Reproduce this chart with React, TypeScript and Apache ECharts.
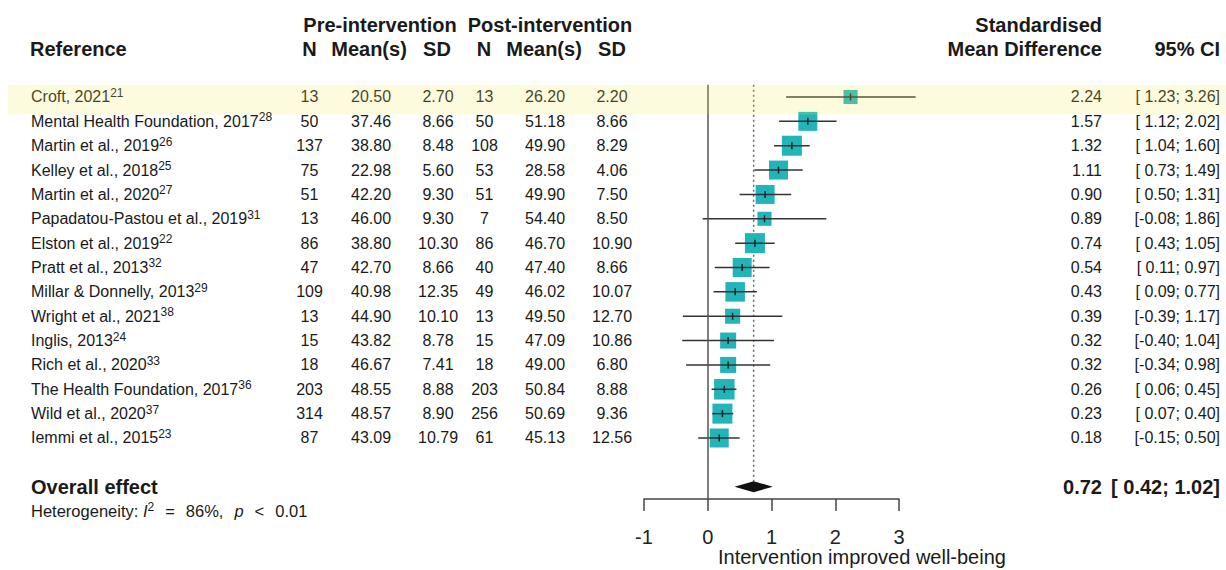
import React, { useEffect, useRef } from "react";
import * as echarts from "echarts";

// ---------- data ----------
const studies = [
  "Croft, 2021",
  "Mental Health Foundation, 2017",
  "Martin et al., 2019",
  "Kelley et al., 2018",
  "Martin et al., 2020",
  "Papadatou-Pastou et al., 2019",
  "Elston et al., 2019",
  "Pratt et al., 2013",
  "Millar & Donnelly, 2013",
  "Wright et al., 2021",
  "Inglis, 2013",
  "Rich et al., 2020",
  "The Health Foundation, 2017",
  "Wild et al., 2020",
  "Iemmi et al., 2015",
];
const refs = ["21", "28", "26", "25", "27", "31", "22", "32", "29", "38", "24", "33", "36", "37", "23"];
const preN = [13, 50, 137, 75, 51, 13, 86, 47, 109, 13, 15, 18, 203, 314, 87];
const preMean = [20.5, 37.46, 38.8, 22.98, 42.2, 46.0, 38.8, 42.7, 40.98, 44.9, 43.82, 46.67, 48.55, 48.57, 43.09];
const preSD = [2.7, 8.66, 8.48, 5.6, 9.3, 9.3, 10.3, 8.66, 12.35, 10.1, 8.78, 7.41, 8.88, 8.9, 10.79];
const postN = [13, 50, 108, 53, 51, 7, 86, 40, 49, 13, 15, 18, 203, 256, 61];
const postMean = [26.2, 51.18, 49.9, 28.58, 49.9, 54.4, 46.7, 47.4, 46.02, 49.5, 47.09, 49.0, 50.84, 50.69, 45.13];
const postSD = [2.2, 8.66, 8.29, 4.06, 7.5, 8.5, 10.9, 8.66, 10.07, 12.7, 10.86, 6.8, 8.88, 9.36, 12.56];
const smd = [2.24, 1.57, 1.32, 1.11, 0.9, 0.89, 0.74, 0.54, 0.43, 0.39, 0.32, 0.32, 0.26, 0.23, 0.18];
const ciLow = [1.23, 1.12, 1.04, 0.73, 0.5, -0.08, 0.43, 0.11, 0.09, -0.39, -0.4, -0.34, 0.06, 0.07, -0.15];
const ciHigh = [3.26, 2.02, 1.6, 1.49, 1.31, 1.86, 1.05, 0.97, 0.77, 1.17, 1.04, 0.98, 0.45, 0.4, 0.5];
const weights = [4.0, 7.3, 8.1, 7.3, 7.3, 4.0, 8.1, 7.3, 7.7, 4.6, 5.2, 5.2, 8.5, 8.1, 7.3];
const highlightedStudy = 0;
const overallSMD = 0.72;
const overallLow = 0.42;
const overallHigh = 1.02;
const heterogeneityI2 = "86%";
const heterogeneityP = "0.01";
const xMin = -1;
const xMax = 3;
const xInterval = 1;
const axisTitle = "Intervention improved well-being";

// ---------- styling / layout ----------
const FONT = '"Liberation Sans", Arial, Helvetica, sans-serif';
const TEXT = "#1a1a1a";
const TEAL = "#21b5ba";
const OVERALL_ROW = 16;
const HET_ROW = 17;
const COL = {
  study: 31,
  preN: 309.5,
  preMean: 371,
  preSD: 438,
  postN: 484.5,
  postMean: 545,
  postSD: 612,
  smd: 1102,
  ci: 1220,
};

const f2 = (v: number) => v.toFixed(2);
const ciText = (lo: number, hi: number) => `[${lo < 0 ? "" : " "}${f2(lo)}; ${f2(hi)}]`;

function textEl(text: string, x: number, y: number, align: string, size = 16, weight = "normal", extra: any = {}) {
  return {
    type: "text",
    x,
    y,
    style: {
      text,
      fill: TEXT,
      fontSize: size,
      fontWeight: weight,
      fontFamily: FONT,
      align,
      textAlign: align,
      verticalAlign: "middle",
      textVerticalAlign: "middle",
      ...extra,
    },
  };
}

export default function App() {
  const ref = useRef<HTMLDivElement>(null);

  useEffect(() => {
    if (!ref.current) return;
    const chart = echarts.init(ref.current, null, { renderer: "svg" });
    const maxW = Math.max(...weights);

    const studyData = studies.map((_, i) => [smd[i], i, ciLow[i], ciHigh[i], weights[i]]);
    const tableData = studies.map((_, i) => [0, i]);

    const option: any = {
      animation: false,
      backgroundColor: "#ffffff",
      grid: { left: 644, right: 327, top: 84.82, height: 414.07, containLabel: false },
      xAxis: {
        type: "value",
        min: xMin,
        max: xMax,
        interval: xInterval,
        axisLine: { show: true, onZero: false, lineStyle: { color: "#444", width: 1.5 } },
        axisTick: { show: true, length: 12, lineStyle: { color: "#444", width: 1.5 } },
        axisLabel: { fontSize: 20, fontFamily: FONT, color: "#222", margin: 28 },
        splitLine: { show: false },
      },
      yAxis: {
        type: "value",
        inverse: true,
        min: -0.5,
        max: 16.5,
        show: false,
      },
      graphic: [
        textEl("Pre-intervention", 380, 25, "center", 20, "bold"),
        textEl("Post-intervention", 550, 25, "center", 20, "bold"),
        textEl("Standardised", COL.smd, 25, "right", 20, "bold"),
        textEl("Reference", 30, 48.5, "left", 20, "bold"),
        textEl("N", COL.preN, 48.5, "center", 20, "bold"),
        textEl("Mean(s)", 369, 48.5, "center", 20, "bold"),
        textEl("SD", 437, 48.5, "center", 20, "bold"),
        textEl("N", 484, 48.5, "center", 20, "bold"),
        textEl("Mean(s)", 544, 48.5, "center", 20, "bold"),
        textEl("SD", COL.postSD, 48.5, "center", 20, "bold"),
        textEl("Mean Difference", COL.smd, 48.5, "right", 20, "bold"),
        textEl("95% CI", COL.ci, 48.5, "right", 20, "bold"),
        textEl(axisTitle, 718, 557, "left", 20, "normal"),
      ],
      series: [
        // vertical line of no effect
        {
          type: "line",
          data: [],
          silent: true,
          markLine: {
            silent: true,
            symbol: "none",
            label: { show: false },
            lineStyle: { color: "#555", width: 1.5, type: "solid" },
            data: [{ xAxis: 0 }],
          },
        },
        // dotted line at overall effect
        {
          type: "line",
          silent: true,
          symbol: "none",
          data: [
            [overallSMD, -0.5],
            [overallSMD, OVERALL_ROW - 0.21],
          ],
          lineStyle: { color: "#666", width: 1.5, type: [2, 3] },
          z: 1,
        },
        // study squares + CIs
        {
          type: "custom",
          coordinateSystem: "cartesian2d",
          encode: { x: 0, y: 1 },
          data: studyData,
          z: 3,
          renderItem: (params: any, api: any) => {
            const est = api.value(0);
            const row = api.value(1);
            const lo = api.value(2);
            const hi = api.value(3);
            const w = api.value(4);
            const c = api.coord([est, row]);
            const pl = api.coord([lo, row]);
            const ph = api.coord([hi, row]);
            const s = 20.5 * Math.sqrt(w / maxW);
            return {
              type: "group",
              children: [
                {
                  type: "rect",
                  shape: { x: c[0] - s / 2, y: c[1] - s / 2, width: s, height: s },
                  style: { fill: TEAL },
                },
                {
                  type: "line",
                  shape: { x1: pl[0], y1: c[1], x2: ph[0], y2: c[1] },
                  style: { stroke: "#333", lineWidth: 1.5 },
                },
                {
                  type: "line",
                  shape: { x1: c[0], y1: c[1] - 3.5, x2: c[0], y2: c[1] + 3.5 },
                  style: { stroke: "#222", lineWidth: 1.5 },
                },
              ],
            };
          },
        },
        // overall diamond + texts
        {
          type: "custom",
          coordinateSystem: "cartesian2d",
          encode: { x: 0, y: 1 },
          data: [[overallSMD, OVERALL_ROW, overallLow, overallHigh]],
          z: 3,
          renderItem: (params: any, api: any) => {
            const est = api.value(0);
            const row = api.value(1);
            const c = api.coord([est, row]);
            const pl = api.coord([api.value(2), row]);
            const ph = api.coord([api.value(3), row]);
            const hy = api.coord([0, HET_ROW])[1];
            return {
              type: "group",
              children: [
                {
                  type: "polygon",
                  shape: {
                    points: [
                      [pl[0], c[1]],
                      [c[0], c[1] - 5.5],
                      [ph[0], c[1]],
                      [c[0], c[1] + 5.5],
                    ],
                  },
                  style: { fill: "#111" },
                },
                textEl("Overall effect", COL.study, c[1], "left", 20, "bold"),
                textEl(f2(est), COL.smd, c[1], "right", 20, "bold"),
                textEl(ciText(api.value(2), api.value(3)), COL.ci, c[1], "right", 20, "bold"),
                {
                  type: "text",
                  x: COL.study,
                  y: hy,
                  style: {
                    text: `{t|Heterogeneity: }{i|I}{s|2}{op|=}{t|${heterogeneityI2},}{p|p}{op|<}{t|${heterogeneityP}}`,
                    align: "left",
                    textAlign: "left",
                    verticalAlign: "middle",
                    textVerticalAlign: "middle",
                    fontFamily: FONT,
                    fontSize: 16.5,
                    fill: TEXT,
                    rich: {
                      t: { fontSize: 16.5, fontFamily: FONT, fill: TEXT, color: TEXT, lineHeight: 20 },
                      i: { fontSize: 16.5, fontFamily: FONT, fill: TEXT, color: TEXT, fontStyle: "italic", lineHeight: 20 },
                      p: { fontSize: 16.5, fontFamily: FONT, fill: TEXT, color: TEXT, fontStyle: "italic", lineHeight: 20, padding: [0, 0, 0, 11] },
                      op: { fontSize: 16.5, fontFamily: FONT, fill: TEXT, color: TEXT, lineHeight: 20, padding: [0, 11, 0, 11] },
                      s: { fontSize: 12, fontFamily: FONT, fill: TEXT, color: TEXT, verticalAlign: "top", lineHeight: 12 },
                    },
                  },
                },
              ],
            };
          },
        },
        // table columns
        {
          type: "custom",
          coordinateSystem: "cartesian2d",
          encode: { x: 0, y: 1 },
          data: tableData,
          z: 10,
          renderItem: (params: any, api: any) => {
            const i = api.value(1);
            const y = api.coord([0, i])[1];
            const children: any[] = [
              {
                type: "text",
                x: COL.study,
                y,
                style: {
                  text: `{n|${studies[i]}}{s|${refs[i]}}`,
                  align: "left",
                  textAlign: "left",
                  verticalAlign: "middle",
                  textVerticalAlign: "middle",
                  fontFamily: FONT,
                  fontSize: 16,
                  fill: TEXT,
                  rich: {
                    n: { fontSize: 16, fontFamily: FONT, fill: TEXT, color: TEXT, lineHeight: 20 },
                    s: { fontSize: 12, fontFamily: FONT, fill: TEXT, color: TEXT, verticalAlign: "top", lineHeight: 12 },
                  },
                },
              },
              textEl(String(preN[i]), COL.preN, y, "center"),
              textEl(f2(preMean[i]), COL.preMean, y, "center"),
              textEl(f2(preSD[i]), COL.preSD, y, "center"),
              textEl(String(postN[i]), COL.postN, y, "center"),
              textEl(f2(postMean[i]), COL.postMean, y, "center"),
              textEl(f2(postSD[i]), COL.postSD, y, "center"),
              textEl(f2(smd[i]), COL.smd, y, "right"),
              textEl(ciText(ciLow[i], ciHigh[i]), COL.ci, y, "right"),
            ];
            if (i === highlightedStudy) {
              children.push({
                type: "rect",
                shape: { x: 8, y: y - 12, width: 1218, height: 29.5 },
                style: { fill: "rgba(245,235,85,0.2)" },
              });
            }
            return { type: "group", children };
          },
        },
      ],
    };

    chart.setOption(option);
    return () => chart.dispose();
  }, []);

  return (
    <div
      ref={ref}
      style={{ position: "fixed", left: 0, top: 0, width: 1226, height: 570, background: "#fff" }}
    />
  );
}
